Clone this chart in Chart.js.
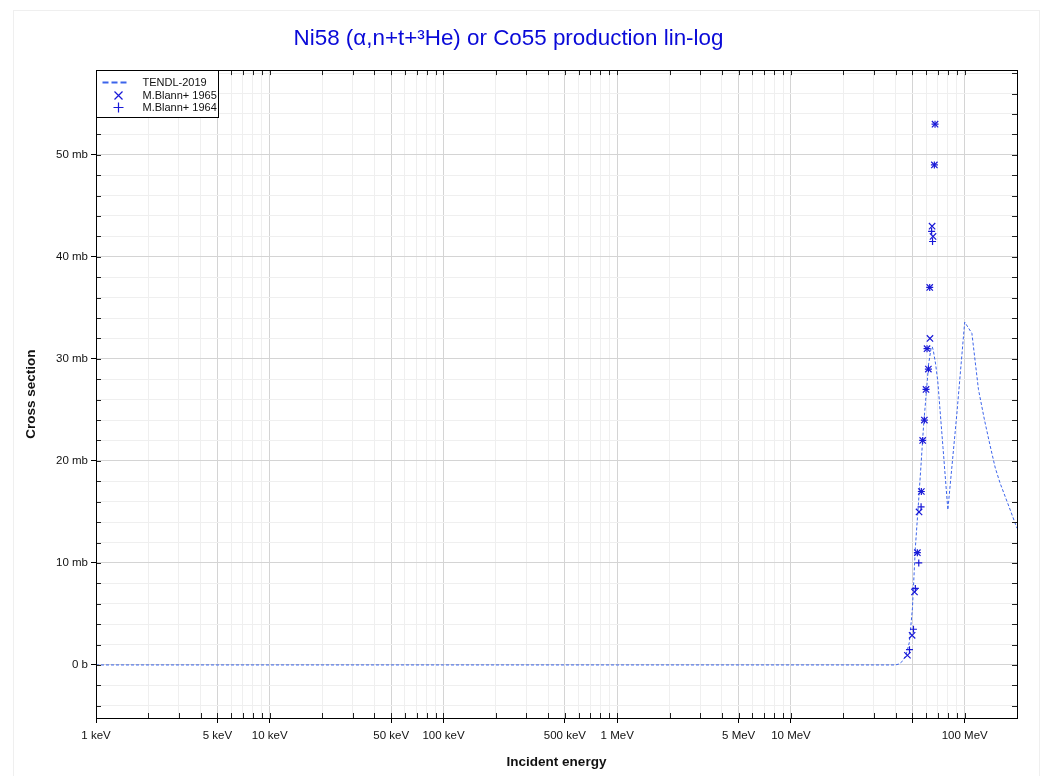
<!DOCTYPE html>
<html>
<head>
<meta charset="utf-8">
<title>Ni58 (α,n+t+³He) or Co55 production</title>
<script src="https://cdn.jsdelivr.net/npm/chart.js@4.4.1/dist/chart.umd.min.js"></script>
<style>
  html, body { margin: 0; padding: 0; background: #fff; }
  canvas { display: block; }
</style>
</head>
<body>
<canvas id="xsChart" width="1043" height="776"></canvas>
<script>
// energies in MeV, cross sections in mb
const tendlEnergy = [0.001, 0.01, 0.1, 1, 10, 30, 40, 42, 44, 46, 48, 50, 52, 54, 56, 58, 60, 62, 64, 65, 66, 68, 70, 75, 80, 90, 100, 110, 120, 130, 140, 150, 160, 180, 200];
const tendlXs     = [0, 0, 0, 0, 0, 0, 0, 0.1, 0.4, 1.0, 2.2, 5.5, 11.5, 15.5, 19.5, 23.5, 26.5, 29.5, 31.0, 31.2, 30.8, 29.5, 27.8, 21.3, 15.2, 24.5, 33.6, 32.5, 27.0, 24.0, 21.5, 19.3, 17.8, 15.5, 13.4];

const blann1965Energy = [46.8, 49.8, 51.4, 53.4, 54.6, 56.3, 57.3, 58.6, 59.9, 60.7, 61.8, 62.9, 63.1, 64.9, 65.7, 66.9, 67.5];
const blann1965Xs     = [0.95, 2.9, 7.15, 11.0, 15.0, 17.0, 22.0, 24.0, 27.0, 31.0, 29.0, 37.0, 32.0, 43.0, 42.0, 49.0, 53.0];

const blann1964Energy = [48.1, 50.7, 52.0, 53.4, 54.4, 56.1, 56.3, 57.3, 58.6, 59.9, 60.7, 61.8, 62.9, 64.5, 65.3, 66.9, 67.5];
const blann1964Xs     = [1.5, 3.5, 7.5, 11.0, 10.0, 15.5, 17.0, 22.0, 24.0, 27.0, 31.0, 29.0, 37.0, 42.5, 41.5, 49.0, 53.0];

const xMajorTicks = [0.001, 0.005, 0.01, 0.05, 0.1, 0.5, 1, 5, 10, 50, 100];
const xTickLabels = ['1 keV', '5 keV', '10 keV', '50 keV', '100 keV', '500 keV', '1 MeV', '5 MeV', '10 MeV', '', '100 MeV'];
const yMajorTicks = [0, 10, 20, 30, 40, 50];
const yTickLabels = ['0 b', '10 mb', '20 mb', '30 mb', '40 mb', '50 mb'];

const X_MIN = 0.001, X_MAX = 200;
const Y_MIN = -5.2, Y_MAX = 58.3;

const LINE_BLUE = 'rgb(60,100,235)';
const MARK_BLUE = 'rgb(25,25,215)';

Chart.defaults.font.family = "'Liberation Sans', Arial, sans-serif";
Chart.defaults.color = '#111';

function pairs(xs, ys) {
  return xs.map((x, i) => ({ x: x, y: ys[i] }));
}

function findIndex(list, v) {
  return list.findIndex(m => Math.abs(m - v) <= Math.abs(v) * 1e-6 + 1e-12);
}

// 1..9 per decade
function logTicks(min, max) {
  const out = [];
  for (let e = Math.floor(Math.log10(min)); e <= Math.ceil(Math.log10(max)); e++) {
    for (let m = 1; m <= 9; m++) {
      const v = +(m * Math.pow(10, e)).toPrecision(6);
      if (v >= min * 0.999999 && v <= max * 1.000001) out.push({ value: v });
    }
  }
  return out;
}

const frameAndLegend = {
  id: 'frameAndLegend',
  beforeDraw(chart) {
    const ctx = chart.ctx;
    ctx.save();
    ctx.strokeStyle = '#efefef';
    ctx.lineWidth = 1;
    ctx.strokeRect(13.5, 10.5, 1026, 800);
    ctx.restore();
  },
  afterDatasetsDraw(chart) {
    const ctx = chart.ctx;
    const { left, right, top, bottom } = chart.chartArea;
    const xs = chart.scales.x, ys = chart.scales.y;
    ctx.save();
    ctx.strokeStyle = '#222';
    ctx.lineWidth = 1;
    ctx.beginPath();
    xs.ticks.forEach(t => {
      const px = Math.round(xs.getPixelForValue(t.value)) + 0.5;
      ctx.moveTo(px, bottom); ctx.lineTo(px, bottom - 5);
      ctx.moveTo(px, top); ctx.lineTo(px, top + 5);
    });
    ys.ticks.forEach(t => {
      const py = Math.round(ys.getPixelForValue(t.value)) + 0.5;
      ctx.moveTo(left, py); ctx.lineTo(left + 5, py);
      ctx.moveTo(right, py); ctx.lineTo(right - 5, py);
    });
    ctx.stroke();
    ctx.strokeStyle = '#000';
    ctx.strokeRect(Math.round(left) + 0.5, Math.round(top) + 0.5, Math.round(right - left), Math.round(bottom - top));

    // legend box
    const bx = Math.round(left) + 0.5, by = Math.round(top) + 0.5;
    const bw = 122, bh = 47;
    ctx.fillStyle = '#fff';
    ctx.fillRect(bx, by, bw, bh);
    ctx.strokeStyle = '#000';
    ctx.strokeRect(bx, by, bw, bh);

    const ds = chart.data.datasets;
    const rows = [by + 11.5, by + 24, by + 36.5];
    ctx.font = "11px 'Liberation Sans', Arial, sans-serif";
    ctx.textBaseline = 'middle';
    ctx.textAlign = 'left';
    ds.forEach((d, i) => {
      const y = Math.round(rows[i]) + 0.5;
      const cx = Math.round(bx + 21) + 0.5;
      ctx.save();
      ctx.strokeStyle = d.borderColor;
      if (d.showLine) {
        ctx.lineWidth = 1.8;
        ctx.setLineDash([6, 3]);
        ctx.beginPath();
        ctx.moveTo(bx + 6, y); ctx.lineTo(bx + 32, y);
        ctx.stroke();
      } else {
        ctx.lineWidth = 1.2;
        ctx.beginPath();
        if (d.pointStyle === 'crossRot') {
          ctx.moveTo(cx - 4, y - 4); ctx.lineTo(cx + 4, y + 4);
          ctx.moveTo(cx - 4, y + 4); ctx.lineTo(cx + 4, y - 4);
        } else {
          ctx.moveTo(cx - 5, y); ctx.lineTo(cx + 5, y);
          ctx.moveTo(cx, y - 5); ctx.lineTo(cx, y + 5);
        }
        ctx.stroke();
      }
      ctx.restore();
      ctx.fillStyle = '#111';
      ctx.fillText(d.label, bx + 46, y);
    });
    ctx.restore();
  }
};

new Chart(document.getElementById('xsChart'), {
  type: 'scatter',
  data: {
    datasets: [
      {
        label: 'TENDL-2019',
        data: pairs(tendlEnergy, tendlXs),
        showLine: true,
        borderColor: LINE_BLUE,
        borderWidth: 1,
        borderDash: [3, 2],
        pointRadius: 0,
        fill: false,
        order: 3
      },
      {
        label: 'M.Blann+ 1965',
        data: pairs(blann1965Energy, blann1965Xs),
        pointStyle: 'crossRot',
        pointRadius: 4.5,
        borderColor: MARK_BLUE,
        backgroundColor: MARK_BLUE,
        pointBorderWidth: 1.2,
        order: 2
      },
      {
        label: 'M.Blann+ 1964',
        data: pairs(blann1964Energy, blann1964Xs),
        pointStyle: 'cross',
        pointRadius: 3.5,
        borderColor: MARK_BLUE,
        backgroundColor: MARK_BLUE,
        pointBorderWidth: 1.2,
        order: 1
      }
    ]
  },
  options: {
    responsive: false,
    devicePixelRatio: 1,
    animation: false,
    layout: { padding: { left: 0, right: 26, top: 10, bottom: 0 } },
    plugins: {
      legend: { display: false },
      tooltip: { enabled: false },
      title: {
        display: true,
        text: 'Ni58 (α,n+t+³He) or Co55 production lin-log',
        color: '#0a0ad8',
        font: { size: 22.4, weight: 'normal' },
        padding: { top: 15, bottom: 18.2 }
      }
    },
    scales: {
      x: {
        type: 'logarithmic',
        min: X_MIN,
        max: X_MAX,
        afterBuildTicks: s => { s.ticks = logTicks(X_MIN, X_MAX); },
        afterFit: s => { s.height = 58; },
        border: { color: '#000', width: 1 },
        grid: {
          color: c => findIndex(xMajorTicks, c.tick.value) >= 0 ? '#d4d4d4' : '#efefef',
          tickColor: c => findIndex(xMajorTicks, c.tick.value) >= 0 ? '#000' : 'rgba(0,0,0,0)',
          tickLength: 5
        },
        ticks: {
          autoSkip: false,
          maxRotation: 0,
          minRotation: 0,
          padding: 6,
          color: '#111',
          font: { size: 11.5 },
          callback: v => {
            const i = findIndex(xMajorTicks, v);
            return i >= 0 ? xTickLabels[i] : '';
          }
        },
        title: {
          display: true,
          text: 'Incident energy',
          color: '#111',
          font: { size: 13.5, weight: 'bold' },
          padding: { top: 0, bottom: 6 }
        }
      },
      y: {
        type: 'linear',
        min: Y_MIN,
        max: Y_MAX,
        afterBuildTicks: s => {
          const t = [];
          for (let v = -4; v <= 58; v += 2) t.push({ value: v });
          s.ticks = t;
        },
        afterFit: s => { s.width = 96; },
        border: { color: '#000', width: 1 },
        grid: {
          color: c => findIndex(yMajorTicks, c.tick.value) >= 0 ? '#d4d4d4' : '#efefef',
          tickColor: c => findIndex(yMajorTicks, c.tick.value) >= 0 ? '#000' : 'rgba(0,0,0,0)',
          tickLength: 5
        },
        ticks: {
          autoSkip: false,
          padding: 3,
          color: '#111',
          font: { size: 11.5 },
          callback: v => {
            const i = findIndex(yMajorTicks, v);
            return i >= 0 ? yTickLabels[i] : '';
          }
        },
        title: {
          display: true,
          text: 'Cross section',
          color: '#111',
          font: { size: 13.5, weight: 'bold' },
          padding: { top: 23, bottom: 0 }
        }
      }
    }
  },
  plugins: [frameAndLegend]
});
</script>
</body>
</html>
